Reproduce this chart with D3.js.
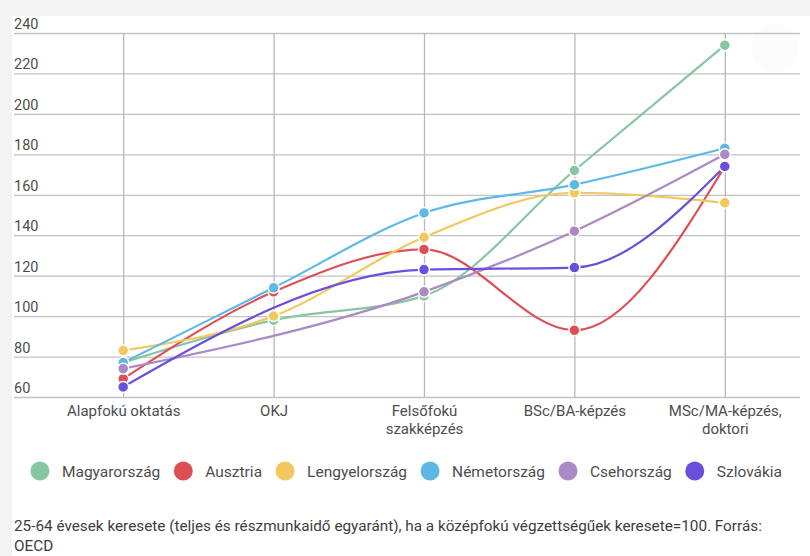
<!DOCTYPE html>
<html>
<head>
<meta charset="utf-8">
<script src="https://cdnjs.cloudflare.com/ajax/libs/d3/7.8.5/d3.min.js"></script>
<style>
body { margin: 0; background: #fff; }
svg { display: block; font-family: Roboto, "Noto Sans", sans-serif; }
</style>
</head>
<body>
<svg id="canvas"></svg>
<script>
// categories and series
const categories = ['Alapfokú oktatás', 'OKJ', 'Felsőfokú\nszakképzés', 'BSc/BA-képzés', 'MSc/MA-képzés,\ndoktori'];
const countries = ['Magyarország', 'Ausztria', 'Lengyelország', 'Németország', 'Csehország', 'Szlovákia'];
const colors = ['#86c6a0', '#dd4f55', '#f1c85e', '#5db8e5', '#a98ac6', '#6a4fdc'];

const magyarorszag = [77, 98, 110, 172, 234];
const ausztria = [69, 112, 133, 93, 174];
const lengyelorszag = [83, 100, 139, 161, 156];
const nemetorszag = [77, 114, 151, 165, 183];
const csehorszag = [74, null, 112, 142, 180];
const szlovakia = [65, null, 123, 124, 174];

const yTicks = [60, 80, 100, 120, 140, 160, 180, 200, 220, 240];
const note = ['25-64 évesek keresete (teljes és részmunkaidő egyaránt), ha a középfokú végzettségűek keresete=100. Forrás:', 'OECD'];

let series = [magyarorszag, ausztria, lengyelorszag, nemetorszag, csehorszag, szlovakia];

let width = 810;
let height = 556;
let plotLeft = 14;
let plotRight = 800;
let plotTop = 33;
let plotBottom = 397;

let canvas = d3.select('#canvas');
canvas.attr('width', width);
canvas.attr('height', height);

// page background strips
canvas.append('rect').attr('width', width).attr('height', height).attr('fill', '#fff');
canvas.append('rect').attr('width', width).attr('height', 16).attr('fill', '#f3f3f3');
canvas.append('rect').attr('width', 12).attr('height', height).attr('fill', '#f3f3f3');
canvas.append('circle').attr('cx', 775).attr('cy', 48).attr('r', 24).attr('fill', '#fcfcfc');

let xScale = d3.scalePoint()
    .domain(categories)
    .range([48, plotRight])
    .padding(0.5);

let yScale = d3.scaleLinear()
    .domain([60, 240])
    .range([plotBottom, plotTop]);

// y grid + labels
let yAxis = d3.axisLeft(yScale)
    .tickValues(yTicks)
    .tickSize(-(plotRight - plotLeft))
    .tickFormat(d3.format('d'));

let gy = canvas.append('g')
    .attr('transform', 'translate(' + plotLeft + ', 0)')
    .call(yAxis);
gy.select('.domain').remove();
gy.selectAll('line').attr('stroke', '#c2c2c2').attr('stroke-width', 1.3);
gy.selectAll('text')
    .attr('x', 0)
    .attr('dy', -4.5)
    .attr('text-anchor', 'start')
    .attr('fill', '#4d4d4d')
    .style('font-size', '14.5px')
    .style('font-family', 'Roboto, sans-serif');

// x grid + labels
let xAxis = d3.axisBottom(xScale)
    .tickSize(-(plotBottom - plotTop))
    .tickPadding(0);

let gx = canvas.append('g')
    .attr('transform', 'translate(0, ' + plotBottom + ')')
    .call(xAxis);
gx.select('.domain').remove();
gx.selectAll('line').attr('stroke', '#b8b8b8').attr('stroke-width', 1.3);
gx.selectAll('text').each(function (d) {
    let t = d3.select(this);
    t.text(null)
        .attr('y', 19)
        .attr('dy', 0)
        .attr('fill', '#4d4d4d')
        .style('font-size', '15px')
        .style('font-family', 'Roboto, sans-serif');
    d.split('\n').forEach((part, i) => {
        t.append('tspan').attr('x', 0).attr('dy', i ? 18 : 0).text(part);
    });
});

// lines and points
let line = d3.line()
    .x(d => xScale(d.cat))
    .y(d => yScale(d.value))
    .curve(d3.curveMonotoneX);

series.forEach((values, i) => {
    let pts = values
        .map((v, j) => ({ cat: categories[j], value: v }))
        .filter(d => d.value !== null);

    canvas.append('path')
        .datum(pts)
        .attr('d', line)
        .attr('fill', 'none')
        .attr('stroke', colors[i])
        .attr('stroke-width', 2.2);

    canvas.append('g')
        .selectAll('circle')
        .data(pts)
        .enter()
        .append('circle')
        .attr('cx', d => xScale(d.cat))
        .attr('cy', d => yScale(d.value))
        .attr('r', 5.5)
        .attr('fill', colors[i])
        .attr('stroke', '#fff')
        .attr('stroke-width', 1.5);
});

// legend
let legend = canvas.append('g');
let lx = 0;
countries.forEach((name, i) => {
    let item = legend.append('g').attr('transform', 'translate(' + lx + ', 0)');
    item.append('circle')
        .attr('cx', 10)
        .attr('cy', 0)
        .attr('r', 9.5)
        .attr('fill', colors[i]);
    let txt = item.append('text')
        .attr('x', 32)
        .attr('y', 5.5)
        .attr('fill', '#4d4d4d')
        .style('font-size', '15.5px')
        .text(name);
    lx += 32 + txt.node().getComputedTextLength() + 13;
});
lx -= 13;
legend.attr('transform', 'translate(' + (406 - lx / 2) + ', 471)');

// footnote
canvas.append('g')
    .selectAll('text')
    .data(note)
    .enter()
    .append('text')
    .attr('x', plotLeft)
    .attr('y', (d, i) => 531 + i * 19.5)
    .attr('fill', '#3d3d3d')
    .style('font-size', '15.3px')
    .text(d => d);
</script>
</body>
</html>
